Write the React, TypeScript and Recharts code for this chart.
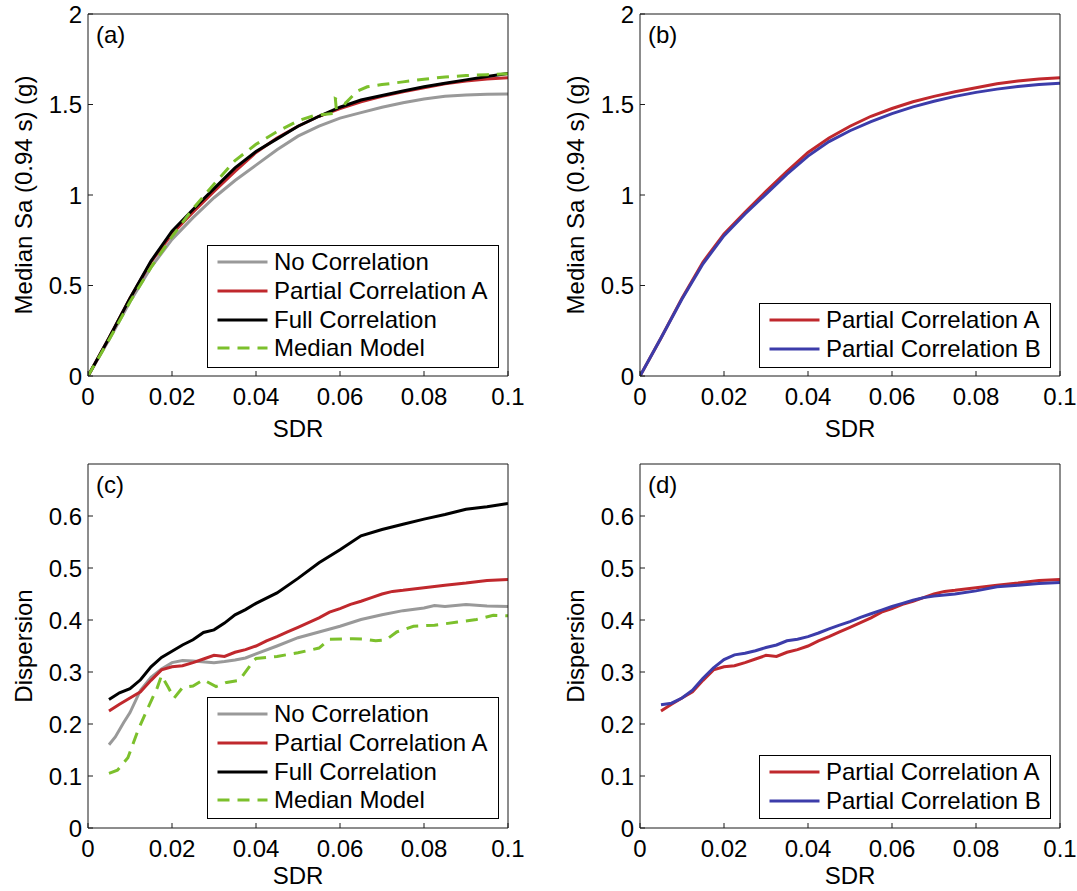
import { LineChart, Line, XAxis, YAxis, Legend } from "recharts";

// SDR grid used for the median Sa curves (panels a, b)
const sdrGrid = [0, 0.005, 0.01, 0.015, 0.02, 0.025, 0.03, 0.035, 0.04, 0.045, 0.05, 0.055, 0.06, 0.065, 0.07, 0.075, 0.08, 0.085, 0.09, 0.095, 0.1];
const saNoCorrelation = [0, 0.2, 0.41, 0.6, 0.755, 0.875, 0.985, 1.08, 1.165, 1.25, 1.325, 1.38, 1.425, 1.455, 1.485, 1.51, 1.53, 1.545, 1.552, 1.556, 1.558];
const saPartialA = [0, 0.21, 0.43, 0.63, 0.785, 0.905, 1.02, 1.13, 1.235, 1.315, 1.38, 1.435, 1.478, 1.515, 1.545, 1.57, 1.592, 1.615, 1.63, 1.641, 1.648];
const saFullCorrelation = [0, 0.21, 0.43, 0.635, 0.8, 0.92, 1.035, 1.15, 1.24, 1.31, 1.38, 1.435, 1.485, 1.525, 1.55, 1.575, 1.598, 1.617, 1.636, 1.655, 1.672];
const saPartialB = [0, 0.21, 0.425, 0.62, 0.775, 0.895, 1.005, 1.115, 1.215, 1.295, 1.355, 1.405, 1.45, 1.487, 1.518, 1.545, 1.567, 1.585, 1.6, 1.61, 1.617];
const saMedianSdr = [0, 0.005, 0.01, 0.015, 0.02, 0.025, 0.03, 0.035, 0.04, 0.045, 0.05, 0.054, 0.0592, 0.0589, 0.0612, 0.064, 0.0665, 0.07, 0.075, 0.08, 0.085, 0.09, 0.095, 0.1];
const saMedianModel = [0, 0.2, 0.41, 0.6, 0.77, 0.925, 1.06, 1.19, 1.28, 1.35, 1.41, 1.44, 1.452, 1.532, 1.505, 1.572, 1.598, 1.61, 1.625, 1.64, 1.652, 1.66, 1.665, 1.67];

// dispersion curves (panels c, d)
const dispSdr = [0.005, 0.0075, 0.01, 0.0125, 0.015, 0.0175, 0.02, 0.0225, 0.025, 0.0275, 0.03, 0.0325, 0.035, 0.0375, 0.04, 0.0425, 0.045, 0.0475, 0.05, 0.0525, 0.055, 0.0575, 0.06, 0.0625, 0.065, 0.0675, 0.07, 0.0725, 0.075, 0.08, 0.085, 0.09, 0.095, 0.1];
const dispPartialA = [0.225, 0.238, 0.25, 0.262, 0.284, 0.304, 0.31, 0.312, 0.318, 0.325, 0.332, 0.33, 0.338, 0.343, 0.35, 0.36, 0.368, 0.377, 0.386, 0.395, 0.404, 0.415, 0.422, 0.43, 0.436, 0.443, 0.45, 0.455, 0.457, 0.462, 0.467, 0.471, 0.476, 0.478];
const dispPartialB = [0.237, 0.24, 0.25, 0.265, 0.288, 0.308, 0.324, 0.333, 0.336, 0.341, 0.347, 0.352, 0.36, 0.363, 0.368, 0.375, 0.383, 0.39, 0.397, 0.405, 0.412, 0.419, 0.426, 0.432, 0.438, 0.443, 0.446, 0.448, 0.45, 0.456, 0.464, 0.467, 0.47, 0.472];
const dispFullSdr = [0.005, 0.0075, 0.01, 0.0125, 0.015, 0.0175, 0.02, 0.0225, 0.025, 0.0275, 0.03, 0.0325, 0.035, 0.0375, 0.04, 0.045, 0.05, 0.055, 0.06, 0.065, 0.07, 0.075, 0.08, 0.085, 0.09, 0.095, 0.1];
const dispFullCorrelation = [0.247, 0.26, 0.268, 0.285, 0.31, 0.328, 0.34, 0.352, 0.362, 0.376, 0.381, 0.394, 0.41, 0.42, 0.432, 0.452, 0.48, 0.51, 0.535, 0.562, 0.574, 0.584, 0.594, 0.603, 0.613, 0.618, 0.624];
const dispNoCorrSdr = [0.005, 0.0065, 0.0085, 0.01, 0.0125, 0.015, 0.0175, 0.02, 0.0225, 0.025, 0.03, 0.0325, 0.035, 0.0375, 0.04, 0.045, 0.05, 0.055, 0.06, 0.065, 0.07, 0.075, 0.08, 0.0825, 0.085, 0.09, 0.095, 0.1];
const dispNoCorrelation = [0.16, 0.175, 0.203, 0.222, 0.265, 0.29, 0.306, 0.318, 0.322, 0.321, 0.318, 0.32, 0.323, 0.327, 0.335, 0.35, 0.366, 0.377, 0.388, 0.401, 0.41, 0.418, 0.423, 0.428, 0.426, 0.43, 0.427, 0.426];
const dispMedianSdr = [0.005, 0.007, 0.0095, 0.012, 0.0145, 0.0165, 0.0175, 0.019, 0.0205, 0.0225, 0.025, 0.0275, 0.0305, 0.033, 0.036, 0.0395, 0.04, 0.045, 0.05, 0.055, 0.0575, 0.063, 0.066, 0.0685, 0.071, 0.0735, 0.0775, 0.0825, 0.088, 0.0925, 0.0965, 0.1];
const dispMedianModel = [0.105, 0.111, 0.135, 0.19, 0.235, 0.27, 0.293, 0.272, 0.25, 0.27, 0.273, 0.285, 0.272, 0.28, 0.284, 0.322, 0.326, 0.33, 0.337, 0.346, 0.363, 0.364, 0.363, 0.36, 0.362, 0.377, 0.388, 0.39, 0.396, 0.401, 0.409, 0.408];

const sdrTicks = [0, 0.02, 0.04, 0.06, 0.08, 0.1];
const saTicks = [0, 0.5, 1, 1.5, 2];
const dispTicks = [0, 0.1, 0.2, 0.3, 0.4, 0.5, 0.6];

const GRAY = "#999999";
const RED = "#c0282d";
const BLACK = "#000000";
const GREEN = "#7cc02c";
const BLUE = "#3c3caa";

type Series = { name: string; xs: number[]; ys: number[]; color: string; dash?: string };

const toPoints = (xs: number[], ys: number[]) => xs.map((x, i) => ({ x, y: ys[i] }));

const FONT = '"Liberation Sans", Arial, Helvetica, sans-serif';
const AXIS = "#1a1a1a";

function LegendBox({ series }: { series: Series[] }) {
  return (
    <div
      style={{
        border: `1.5px solid ${BLACK}`,
        background: "#fff",
        boxSizing: "border-box",
        width: "100%",
        height: "100%",
        paddingTop: 2,
        fontFamily: FONT,
      }}
    >
      {series.map((s) => (
        <div key={s.name} style={{ display: "flex", alignItems: "center", height: 28.7 }}>
          <svg width={60} height={10} style={{ flex: "none" }}>
            <line x1={9.5} x2={59.5} y1={5} y2={5} stroke={s.color} strokeWidth={3} strokeDasharray={s.dash} />
          </svg>
          <span style={{ marginLeft: 6, fontSize: 24, lineHeight: "28px", color: "#000", whiteSpace: "nowrap" }}>
            {s.name}
          </span>
        </div>
      ))}
    </div>
  );
}

interface PanelProps {
  tag: string;
  left: number;
  top: number;
  height: number;
  xAxisHeight: number;
  yDomain: [number, number];
  yTicks: number[];
  yLabel: string;
  sdrOffset: number;
  legendTop: number;
  legendHeight: number;
  series: Series[];
}

function Panel({ tag, left, top, height, xAxisHeight, yDomain, yTicks, yLabel, sdrOffset, legendTop, legendHeight, series }: PanelProps) {
  return (
    <div style={{ position: "absolute", left, top }}>
      <LineChart width={540} height={height} margin={{ top: 13, right: 31, bottom: 0, left: 0 }}>
        <XAxis
          dataKey="x"
          type="number"
          domain={[0, 0.1]}
          allowDataOverflow
          ticks={sdrTicks}
          tickFormatter={(v) => String(v)}
          height={xAxisHeight}
          stroke={AXIS}
          tickSize={-5}
          tickMargin={17}
          tick={{ fill: "#000", fontSize: 24 }}
          label={{ value: "SDR", position: "insideBottom", offset: sdrOffset, fill: "#000", fontSize: 24 }}
        />
        <XAxis
          xAxisId="top"
          orientation="top"
          type="number"
          domain={[0, 0.1]}
          allowDataOverflow
          ticks={sdrTicks}
          height={1}
          stroke={AXIS}
          tickSize={-5}
          tick={false}
        />
        <YAxis
          type="number"
          domain={yDomain}
          allowDataOverflow
          ticks={yTicks}
          tickFormatter={(v) => String(v)}
          width={88}
          stroke={AXIS}
          tickSize={-5}
          tickMargin={11}
          tick={{ fill: "#000", fontSize: 24 }}
          label={{
            value: yLabel,
            angle: -90,
            position: "insideLeft",
            offset: 23.5,
            fill: "#000",
            fontSize: 24,
            style: { textAnchor: "middle" },
          }}
        />
        <YAxis
          yAxisId="right"
          orientation="right"
          type="number"
          domain={yDomain}
          allowDataOverflow
          ticks={yTicks}
          width={1}
          stroke={AXIS}
          tickSize={-5}
          tick={false}
        />
        {series.map((s) => (
          <Line
            key={s.name}
            data={toPoints(s.xs, s.ys)}
            dataKey="y"
            name={s.name}
            type="linear"
            stroke={s.color}
            strokeWidth={3}
            strokeDasharray={s.dash}
            dot={false}
            activeDot={false}
            isAnimationActive={false}
          />
        ))}
        <Legend
          layout="horizontal"
          align="center"
          verticalAlign="middle"
          wrapperStyle={{ left: 207, top: legendTop, width: 292, height: legendHeight }}
          content={() => <LegendBox series={series} />}
        />
        <text x={96} y={43} fontSize={24} fill="#000">
          {tag}
        </text>
      </LineChart>
    </div>
  );
}

export default function App() {
  const saFour: Series[] = [
    { name: "No Correlation", xs: sdrGrid, ys: saNoCorrelation, color: GRAY },
    { name: "Partial Correlation A", xs: sdrGrid, ys: saPartialA, color: RED },
    { name: "Full Correlation", xs: sdrGrid, ys: saFullCorrelation, color: BLACK },
    { name: "Median Model", xs: saMedianSdr, ys: saMedianModel, color: GREEN, dash: "12 8" },
  ];
  const saTwo: Series[] = [
    { name: "Partial Correlation A", xs: sdrGrid, ys: saPartialA, color: RED },
    { name: "Partial Correlation B", xs: sdrGrid, ys: saPartialB, color: BLUE },
  ];
  const dispFour: Series[] = [
    { name: "No Correlation", xs: dispNoCorrSdr, ys: dispNoCorrelation, color: GRAY },
    { name: "Partial Correlation A", xs: dispSdr, ys: dispPartialA, color: RED },
    { name: "Full Correlation", xs: dispFullSdr, ys: dispFullCorrelation, color: BLACK },
    { name: "Median Model", xs: dispMedianSdr, ys: dispMedianModel, color: GREEN, dash: "12 8" },
  ];
  const dispTwo: Series[] = [
    { name: "Partial Correlation A", xs: dispSdr, ys: dispPartialA, color: RED },
    { name: "Partial Correlation B", xs: dispSdr, ys: dispPartialB, color: BLUE },
  ];

  return (
    <div
      style={{
        position: "absolute",
        left: 0,
        top: 0,
        width: 1077,
        height: 891,
        background: "#fff",
        fontFamily: FONT,
        overflow: "hidden",
      }}
    >
      <Panel tag="(a)" left={0} top={0} height={446} xAxisHeight={70} yDomain={[0, 2]} yTicks={saTicks}
        yLabel="Median Sa (0.94 s) (g)" sdrOffset={9} legendTop={245} legendHeight={123} series={saFour} />
      <Panel tag="(b)" left={552} top={0} height={446} xAxisHeight={70} yDomain={[0, 2]} yTicks={saTicks}
        yLabel="Median Sa (0.94 s) (g)" sdrOffset={9} legendTop={303} legendHeight={65} series={saTwo} />
      <Panel tag="(c)" left={0} top={450} height={441} xAxisHeight={63} yDomain={[0, 0.7]} yTicks={dispTicks}
        yLabel="Dispersion" sdrOffset={7} legendTop={247} legendHeight={122} series={dispFour} />
      <Panel tag="(d)" left={552} top={450} height={441} xAxisHeight={63} yDomain={[0, 0.7]} yTicks={dispTicks}
        yLabel="Dispersion" sdrOffset={7} legendTop={305} legendHeight={64} series={dispTwo} />
    </div>
  );
}
